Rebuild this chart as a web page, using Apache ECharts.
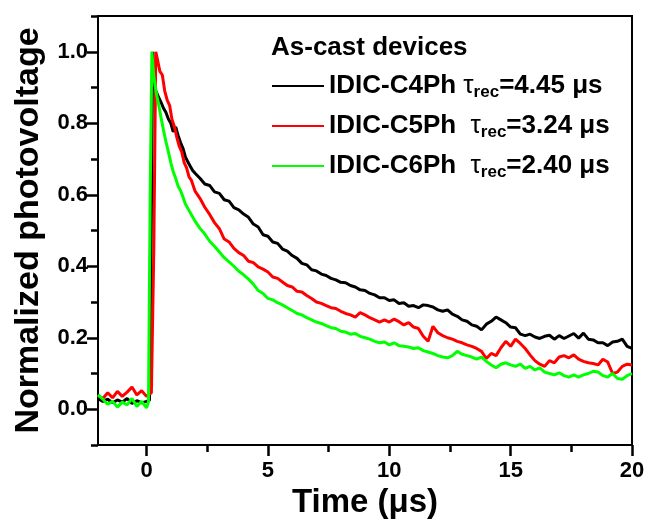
<!DOCTYPE html>
<html>
<head>
<meta charset="utf-8">
<script src="https://cdn.jsdelivr.net/npm/echarts@6/dist/echarts.min.js"></script>
<style>
html,body{margin:0;padding:0;background:#fff;}
#chart{width:652px;height:521px;}
</style>
</head>
<body>
<div id="chart"></div>
<script>
// ---- data ----
const seriesNames = ['IDIC-C4Ph', 'IDIC-C5Ph', 'IDIC-C6Ph'];
const seriesColors = ['#000000', '#ff0000', '#00ff00'];
const tauRec = ['4.45', '3.24', '2.40'];
const legendTitle = 'As-cast devices';
const xTickLabels = [0, 5, 10, 15, 20];
const xMinorTicks = [2.5, 7.5, 12.5, 17.5];
const yTickLabels = [0.0, 0.2, 0.4, 0.6, 0.8, 1.0];

// IDIC-C4Ph (black)
const c4Time = [-2.0,-1.8,-1.6,-1.4,-1.2,-1.0,-0.8,-0.6,-0.4,-0.2,0.0,0.12,0.2,0.25,0.32,0.4,0.5,0.6,0.7,0.8,0.9,1.0,1.1,1.2,1.3,1.4,1.5,1.6,1.7,1.8,1.9,2.0,
  2.2,2.4,2.6,2.8,3.0,3.2,3.4,3.6,3.8,4.0,4.2,4.4,4.6,4.8,5.0,5.2,5.4,5.6,5.8,6.0,6.2,6.4,6.6,6.8,7.0,7.2,7.4,7.6,7.8,8.0,8.2,8.4,8.6,8.8,9.0,9.2,9.4,9.6,9.8,10.0,
  10.2,10.4,10.6,10.8,11.0,11.2,11.4,11.6,11.8,12.0,12.2,12.4,12.6,12.8,13.0,13.2,13.4,13.6,13.8,14.0,14.2,14.4,14.6,14.8,15.0,15.2,15.4,15.6,15.8,16.0,
  16.2,16.4,16.6,16.8,17.0,17.2,17.4,17.6,17.8,18.0,18.2,18.4,18.6,18.8,19.0,19.2,19.4,19.6,19.8,20.0];
const c4Value = [0.030,0.022,0.028,0.018,0.026,0.020,0.030,0.016,0.024,0.018,0.022,0.025,0.55,1.0,0.90,0.888,0.872,0.858,0.842,0.83,0.812,0.80,0.776,0.79,0.766,0.746,0.73,0.706,0.692,0.68,0.668,0.66,
  0.646,0.63,0.626,0.608,0.604,0.586,0.582,0.564,0.558,0.546,0.537,0.518,0.51,0.488,0.484,0.468,0.464,0.448,0.442,0.43,0.422,0.408,0.404,0.39,0.387,0.378,0.374,0.366,0.362,0.355,0.354,0.346,0.342,0.334,0.332,0.324,0.32,0.312,0.312,0.304,
  0.306,0.296,0.298,0.288,0.29,0.284,0.292,0.29,0.286,0.278,0.274,0.278,0.266,0.26,0.25,0.246,0.236,0.232,0.222,0.238,0.246,0.258,0.25,0.242,0.23,0.228,0.21,0.206,0.21,0.202,
  0.198,0.204,0.207,0.196,0.206,0.198,0.205,0.212,0.199,0.213,0.196,0.194,0.186,0.186,0.178,0.188,0.19,0.196,0.176,0.17];

// IDIC-C5Ph (red)
const c5Time = [-2.0,-1.8,-1.6,-1.4,-1.2,-1.0,-0.8,-0.6,-0.4,-0.2,0.0,0.2,0.3,0.38,0.46,0.55,0.65,0.75,0.85,0.95,1.05,1.15,1.25,1.35,1.45,1.55,1.65,1.75,1.85,2.0,
  2.2,2.4,2.6,2.8,3.0,3.2,3.4,3.6,3.8,4.0,4.2,4.4,4.6,4.8,5.0,5.2,5.4,5.6,5.8,6.0,6.2,6.4,6.6,6.8,7.0,7.2,7.4,7.6,7.8,8.0,8.2,8.4,8.6,8.8,9.0,9.2,9.4,9.6,9.8,10.0,
  10.2,10.4,10.6,10.8,11.0,11.2,11.4,11.6,11.8,12.0,12.2,12.4,12.6,12.8,13.0,13.2,13.4,13.6,13.8,14.0,14.2,14.4,14.6,14.8,15.0,15.2,15.4,15.6,15.8,16.0,
  16.2,16.4,16.6,16.8,17.0,17.2,17.4,17.6,17.8,18.0,18.2,18.4,18.6,18.8,19.0,19.2,19.4,19.6,19.8,20.0];
const c5Value = [0.038,0.030,0.046,0.032,0.050,0.036,0.048,0.062,0.040,0.052,0.036,0.046,0.45,1.0,0.975,0.945,0.935,0.89,0.865,0.85,0.81,0.79,0.76,0.735,0.72,0.69,0.675,0.65,0.64,0.61,
  0.59,0.565,0.545,0.522,0.505,0.476,0.468,0.45,0.438,0.43,0.414,0.41,0.398,0.392,0.384,0.37,0.366,0.356,0.346,0.342,0.33,0.328,0.318,0.31,0.30,0.296,0.29,0.284,0.282,0.274,0.268,0.264,0.258,0.27,0.264,0.256,0.25,0.244,0.25,0.244,
  0.252,0.245,0.236,0.242,0.23,0.226,0.204,0.19,0.232,0.214,0.206,0.20,0.196,0.19,0.186,0.18,0.176,0.17,0.162,0.142,0.156,0.15,0.172,0.19,0.176,0.196,0.184,0.17,0.152,0.136,
  0.126,0.12,0.136,0.13,0.146,0.15,0.144,0.152,0.14,0.134,0.13,0.128,0.124,0.14,0.132,0.10,0.104,0.12,0.126,0.124];

// IDIC-C6Ph (green)
const c6Time = [-2.0,-1.8,-1.6,-1.4,-1.2,-1.0,-0.8,-0.6,-0.4,-0.2,0.0,0.08,0.15,0.22,0.3,0.4,0.5,0.6,0.7,0.8,0.9,1.0,1.1,1.2,1.3,1.4,1.5,1.6,1.8,2.0,
  2.2,2.4,2.6,2.8,3.0,3.2,3.4,3.6,3.8,4.0,4.2,4.4,4.6,4.8,5.0,5.2,5.4,5.6,5.8,6.0,6.2,6.4,6.6,6.8,7.0,7.2,7.4,7.6,7.8,8.0,8.2,8.4,8.6,8.8,9.0,9.2,9.4,9.6,9.8,10.0,
  10.2,10.4,10.6,10.8,11.0,11.2,11.4,11.6,11.8,12.0,12.2,12.4,12.6,12.8,13.0,13.2,13.4,13.6,13.8,14.0,14.2,14.4,14.6,14.8,15.0,15.2,15.4,15.6,15.8,16.0,
  16.2,16.4,16.6,16.8,17.0,17.2,17.4,17.6,17.8,18.0,18.2,18.4,18.6,18.8,19.0,19.2,19.4,19.6,19.8,20.0];
const c6Value = [0.040,0.028,0.014,0.022,0.006,0.020,0.012,0.030,0.008,0.022,0.004,0.020,0.60,1.0,0.93,0.885,0.852,0.815,0.78,0.748,0.72,0.69,0.664,0.646,0.624,0.612,0.594,0.574,0.55,0.526,
  0.506,0.49,0.47,0.456,0.44,0.424,0.412,0.40,0.386,0.376,0.364,0.35,0.332,0.324,0.31,0.306,0.298,0.292,0.284,0.276,0.268,0.264,0.256,0.25,0.244,0.24,0.234,0.228,0.226,0.218,0.216,0.21,0.212,0.204,0.20,0.196,0.19,0.186,0.188,0.18,
  0.186,0.178,0.176,0.174,0.17,0.172,0.164,0.16,0.156,0.15,0.146,0.144,0.15,0.162,0.154,0.15,0.146,0.14,0.146,0.134,0.124,0.116,0.126,0.13,0.124,0.12,0.126,0.114,0.12,0.11,
  0.116,0.104,0.10,0.096,0.102,0.094,0.09,0.096,0.09,0.096,0.10,0.106,0.104,0.094,0.09,0.10,0.086,0.084,0.094,0.10];

// ---- chart ----
const FONT = 'Liberation Sans';
const zip = (t, v) => t.map((x, i) => [x, v[i]]);
const seriesData = [zip(c4Time, c4Value), zip(c5Time, c5Value), zip(c6Time, c6Value)];
const spacer = ['IDIC-C4Ph ', 'IDIC-C5Ph  ', 'IDIC-C6Ph  '];

function tickAxis(min, max, pos, values, len) {
  return {
    type: 'value', min: min, max: max, position: pos,
    axisLine: {show: false, onZero: false},
    axisTick: {show: true, length: len, lineStyle: {color: '#000', width: 2.5}, customValues: values},
    axisLabel: {show: false},
    splitLine: {show: false}
  };
}

const chart = echarts.init(document.getElementById('chart'));
chart.setOption({
  animation: false,
  backgroundColor: '#ffffff',
  title: {
    text: legendTitle, left: 266, top: 30, padding: 5,
    textStyle: {fontFamily: FONT, fontWeight: 'bold', fontSize: 26, color: '#000'}
  },
  legend: {
    orient: 'vertical', left: 267, top: 68, itemGap: 12,
    icon: 'rect', itemWidth: 52, itemHeight: 2,
    data: seriesNames,
    formatter: function (name) {
      const i = seriesNames.indexOf(name);
      return '{n|' + spacer[i] + '}{t|τ}{s|rec}{n|=' + tauRec[i] + ' μs}';
    },
    textStyle: {
      fontFamily: FONT, color: '#000',
      rich: {
        n: {fontFamily: FONT, fontWeight: 'bold', fontSize: 26, lineHeight: 30, color: '#000'},
        t: {fontFamily: FONT, fontWeight: 'normal', fontSize: 26, lineHeight: 30, color: '#000'},
        s: {fontFamily: FONT, fontWeight: 'bold', fontSize: 17, lineHeight: 14, verticalAlign: 'bottom', color: '#000'}
      }
    }
  },
  grid: {left: 98, right: 20, top: 16, bottom: 76, show: true, borderColor: '#000', borderWidth: 2,
    containLabel: false, outerBoundsMode: 'none'},
  xAxis: [{
    type: 'value', min: -2, max: 20, position: 'bottom',
    name: 'Time (μs)', nameLocation: 'middle', nameGap: 38,
    nameTextStyle: {fontFamily: FONT, fontWeight: 'bold', fontSize: 33, color: '#000'},
    axisLine: {show: true, onZero: false, lineStyle: {color: '#000', width: 2}},
    axisTick: {show: true, length: 11, lineStyle: {color: '#000', width: 2.5}, customValues: xTickLabels},
    axisLabel: {fontFamily: FONT, fontWeight: 'bold', fontSize: 22, color: '#000', margin: 15, customValues: xTickLabels},
    splitLine: {show: false}
  },
    tickAxis(-2, 20, 'bottom', xTickLabels, 11),
    tickAxis(-2, 20, 'bottom', xMinorTicks, 7)
  ],
  yAxis: [{
    type: 'value', min: -0.1, max: 1.1, interval: 0.1, position: 'left',
    name: 'Normalized photovoltage', nameLocation: 'middle', nameGap: 52, nameRotate: 90,
    nameTextStyle: {fontFamily: FONT, fontWeight: 'bold', fontSize: 34, color: '#000'},
    axisLine: {show: true, onZero: false, lineStyle: {color: '#000', width: 2}},
    axisTick: {show: true, length: 7, lineStyle: {color: '#000', width: 2.5}},
    axisLabel: {fontFamily: FONT, fontWeight: 'bold', fontSize: 22, color: '#000', margin: 10, customValues: yTickLabels,
      formatter: v => v.toFixed(1)},
    splitLine: {show: false}
  },
    tickAxis(-0.1, 1.1, 'left', yTickLabels, 11)
  ],
  series: seriesNames.map((name, i) => ({
    name: name, type: 'line', xAxisIndex: 0, yAxisIndex: 0,
    data: seriesData[i], showSymbol: false, symbol: 'none',
    lineStyle: {color: seriesColors[i], width: 3}, itemStyle: {color: seriesColors[i]},
    clip: true
  }))
});
</script>
</body>
</html>
